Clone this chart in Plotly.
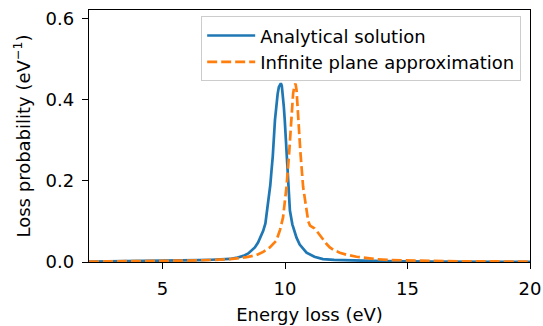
import plotly.graph_objects as go

# Analytical solution (blue, solid)
energy_analytical = [2, 3, 4, 5, 6, 6.5, 7, 7.5, 7.75, 8.0, 8.3, 8.5, 8.77, 8.9, 9.0, 9.11, 9.2,
                     9.31, 9.4, 9.45, 9.5, 9.59, 9.65, 9.7, 9.75, 9.79, 9.83, 9.87, 9.91, 9.95,
                     9.99, 10.04, 10.09, 10.15, 10.2, 10.3, 10.47, 10.6, 10.88, 11.2, 11.55, 12,
                     13, 14, 16, 18, 20]
prob_analytical = [0.001, 0.0015, 0.002, 0.0025, 0.0035, 0.0045, 0.0055, 0.0065, 0.0075, 0.010,
                   0.015, 0.021, 0.036, 0.048, 0.060, 0.077, 0.095, 0.143, 0.19, 0.226, 0.26,
                   0.35, 0.39, 0.415, 0.432, 0.439, 0.441, 0.435, 0.415, 0.385, 0.35, 0.29,
                   0.226, 0.165, 0.127, 0.093, 0.06, 0.043, 0.023, 0.013, 0.007, 0.005, 0.003,
                   0.002, 0.0012, 0.0008, 0.0005]

# Infinite plane approximation (orange, dashed)
energy_plane = [2, 3, 4, 5, 6, 7, 7.75, 8.43, 8.84, 9.11, 9.38, 9.65, 9.8, 9.92, 10.0, 10.06,
                10.17, 10.27, 10.33, 10.39, 10.43, 10.47, 10.54, 10.63, 10.74, 10.88, 10.95,
                11.02, 11.1, 11.2, 11.3, 11.48, 11.69, 11.83, 12.0, 12.24, 12.5, 12.92, 13.3,
                13.73, 14.2, 14.7, 15.5, 16.5, 18, 20]
prob_plane = [0.001, 0.0013, 0.0018, 0.0025, 0.0035, 0.005, 0.007, 0.012, 0.017, 0.025, 0.036,
              0.053, 0.08, 0.11, 0.15, 0.185, 0.27, 0.37, 0.415, 0.437, 0.44, 0.425, 0.35,
              0.27, 0.185, 0.125, 0.10, 0.09, 0.087, 0.083, 0.076, 0.061, 0.045, 0.036, 0.029,
              0.023, 0.018, 0.013, 0.010, 0.007, 0.005, 0.004, 0.003, 0.002, 0.0015, 0.001]

x_ticks = [5, 10, 15, 20]
y_ticks = [0.0, 0.2, 0.4, 0.6]

FONT = "DejaVu Sans"

fig = go.Figure()
fig.add_trace(go.Scatter(x=energy_analytical, y=prob_analytical, mode="lines",
                         name="Analytical solution",
                         line=dict(color="#1f77b4", width=2.7)))
fig.add_trace(go.Scatter(x=energy_plane, y=prob_plane, mode="lines",
                         name="Infinite plane approximation",
                         line=dict(color="#ff7f0e", width=2.7, dash="10px,4px")))

axis_common = dict(showgrid=False, zeroline=False, showline=True, linecolor="black",
                   linewidth=1.4, mirror=True, ticks="outside", ticklen=6, tickwidth=1.4,
                   tickcolor="black", ticklabelstandoff=4,
                   tickfont=dict(family=FONT, size=18, color="black"))

fig.update_layout(
    width=543, height=326,
    margin=dict(l=89, r=13, t=10, b=64, autoexpand=False),
    paper_bgcolor="white", plot_bgcolor="white",
    font=dict(family=FONT, size=18, color="black"),
    xaxis=dict(range=[2, 20], tickvals=x_ticks, ticktext=[str(v) for v in x_ticks],
               title=dict(text="Energy loss (eV)", standoff=10,
                          font=dict(family=FONT, size=18)),
               **axis_common),
    yaxis=dict(range=[0, 0.622], tickvals=y_ticks, ticktext=[f"{v:.1f}" for v in y_ticks],
               title=dict(text="Loss probability (eV<sup>\u22121</sup>)", standoff=10,
                          font=dict(family=FONT, size=18)),
               **axis_common),
    legend=dict(x=0.98, y=0.975, xanchor="right", yanchor="top", itemwidth=48,
                bgcolor="rgba(255,255,255,0.8)", bordercolor="#cccccc", borderwidth=1,
                font=dict(family=FONT, size=18), tracegroupgap=0),
    showlegend=True,
)

fig.write_html("out.html", config={"displayModeBar": False},
               post_script="document.body.style.margin='0';document.body.style.padding='0';")
